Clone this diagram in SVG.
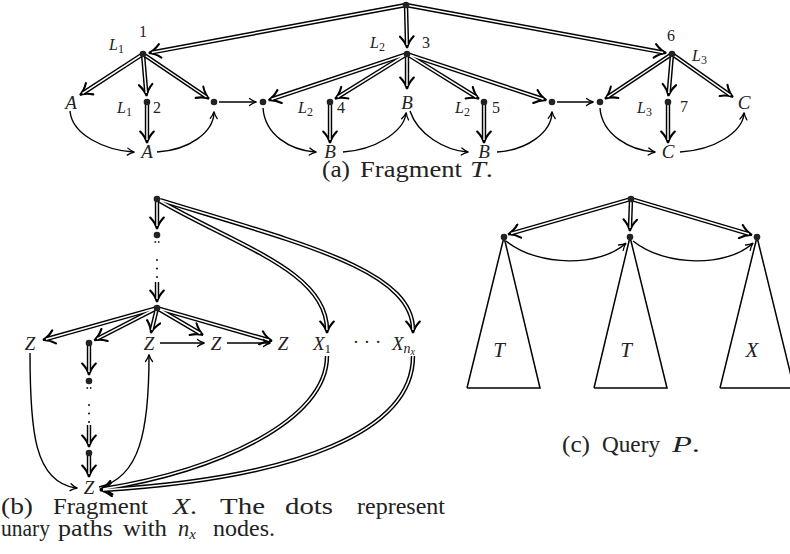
<svg xmlns="http://www.w3.org/2000/svg" width="790" height="554" viewBox="0 0 790 554">
<style>
.n{fill:#222}
.s{fill:none;stroke:#000;stroke-width:1.4}
.do{fill:none;stroke:#000;stroke-width:4.4}
.di{fill:none;stroke:#fff;stroke-width:1.5}
.tri{fill:none;stroke:#000;stroke-width:1.5;stroke-linejoin:miter}
.dots{fill:none;stroke:#222;stroke-width:2.2;stroke-linecap:round;stroke-dasharray:0 8.5}
text{font-family:"Liberation Serif","Times New Roman",serif;fill:#222}
.lb{font-size:19px;font-style:italic;text-anchor:middle}
.lt{font-size:21px;font-style:italic;text-anchor:middle}
.sm{font-size:16px}
.it{font-style:italic}
.sub{font-size:12px;font-style:normal}
.cap{font-size:22.5px}
</style>
<defs>
<marker id="dh" viewBox="-10 -8 16 16" markerWidth="16" markerHeight="16" refX="0" refY="0" orient="auto" markerUnits="userSpaceOnUse">
<path d="M-8.5,-6.8 Q-3,-1.5 3,0 Q-3,1.5 -8.5,6.8" fill="none" stroke="#000" stroke-width="2.1" stroke-linecap="round"/>
</marker>
<marker id="sh" viewBox="-8 -5 10 10" markerWidth="10" markerHeight="10" refX="0" refY="0" orient="auto" markerUnits="userSpaceOnUse">
<path d="M-5.5,-3.5 Q-2,-0.8 1.5,0 Q-2,0.8 -5.5,3.5" fill="none" stroke="#000" stroke-width="1.3" stroke-linecap="round"/>
</marker>
</defs>

<g id="connectors">
<g id="double-outer" class="do" marker-end="url(#dh)">
<path d="M406,5 L151.8,52.4"/>
<path d="M406,5 L407,45"/>
<path d="M406,5 L663.2,52.4"/>
<path d="M143,54 L82.5,93.3"/>
<path d="M143,54 L146.3,93"/>
<path d="M143,54 L206.5,97"/>
<path d="M147,102 L147,140"/>
<path d="M407,54 L271.5,99.2"/>
<path d="M407,54 L337.6,97.2"/>
<path d="M407,54 L407,86"/>
<path d="M407,54 L476.4,97.2"/>
<path d="M407,54 L543.5,99.2"/>
<path d="M330,102 L330,140"/>
<path d="M484,102 L484,140"/>
<path d="M672,54 L607.5,97"/>
<path d="M672,54 L668.7,93"/>
<path d="M672,54 L730.5,95.3"/>
<path d="M668,102 L668,140"/>
<path d="M157,199 L157,226"/>
<path d="M157,282 L157,299"/>
<path d="M157,308 L45.9,339.2"/>
<path d="M157,308 L97,338.9"/>
<path d="M157,308 L151.7,330"/>
<path d="M157,308 L200.4,333.5"/>
<path d="M157,308 L269.1,340.2"/>
<path d="M160,201 C240,247 327,272 327,330"/>
<path d="M160,200 C300,243 413,270 413,330"/>
<path d="M327,356 C327,420 220,470 103,489"/>
<path d="M413,356 C413,430 300,478 103,490"/>
<path d="M89,343 L89,372"/>
<path d="M89,425 L89,444"/>
<path d="M89,453 L89,474"/>
<path d="M631,199 L511,233.5"/>
<path d="M631,199 L630,228"/>
<path d="M631,199 L749,234"/>
</g>
<g id="double-inner" class="di">
<path d="M406,5 L151.8,52.4"/>
<path d="M406,5 L407,45"/>
<path d="M406,5 L663.2,52.4"/>
<path d="M143,54 L82.5,93.3"/>
<path d="M143,54 L146.3,93"/>
<path d="M143,54 L206.5,97"/>
<path d="M147,102 L147,140"/>
<path d="M407,54 L271.5,99.2"/>
<path d="M407,54 L337.6,97.2"/>
<path d="M407,54 L407,86"/>
<path d="M407,54 L476.4,97.2"/>
<path d="M407,54 L543.5,99.2"/>
<path d="M330,102 L330,140"/>
<path d="M484,102 L484,140"/>
<path d="M672,54 L607.5,97"/>
<path d="M672,54 L668.7,93"/>
<path d="M672,54 L730.5,95.3"/>
<path d="M668,102 L668,140"/>
<path d="M157,199 L157,226"/>
<path d="M157,282 L157,299"/>
<path d="M157,308 L45.9,339.2"/>
<path d="M157,308 L97,338.9"/>
<path d="M157,308 L151.7,330"/>
<path d="M157,308 L200.4,333.5"/>
<path d="M157,308 L269.1,340.2"/>
<path d="M160,201 C240,247 327,272 327,330"/>
<path d="M160,200 C300,243 413,270 413,330"/>
<path d="M327,356 C327,420 220,470 103,489"/>
<path d="M413,356 C413,430 300,478 103,490"/>
<path d="M89,343 L89,372"/>
<path d="M89,425 L89,444"/>
<path d="M89,453 L89,474"/>
<path d="M631,199 L511,233.5"/>
<path d="M631,199 L630,228"/>
<path d="M631,199 L749,234"/>
</g>
<g id="single" class="s" marker-end="url(#sh)">
<path d="M219,102 L255,102"/>
<path d="M70,111 C72,135 105,150 133,152"/>
<path d="M157,152 C190,150 213,132 214,113"/>
<path d="M263,108 C265,135 290,150 315,152"/>
<path d="M343,152 C375,150 403,132 406,114"/>
<path d="M410,111 C418,135 445,150 467,152"/>
<path d="M497,152 C528,150 551,132 552,113"/>
<path d="M557,102 L592,102"/>
<path d="M600,108 C602,135 630,150 654,152"/>
<path d="M680,152 C715,150 742,132 744,114"/>
<path d="M160,343 L203,343"/>
<path d="M227,343 L269,343"/>
<path d="M30,353 C30,430 34,482 76,488"/>
<path d="M99,487 C140,478 149,430 149,356"/>
<path d="M506,241 C540,268 600,266 625,244"/>
<path d="M633,241 C667,268 727,266 752,244"/>
</g>
<g id="dotted-paths">
<path class="dots" d="M157,260 L157,278"/>
<path class="dots" d="M89,405 L89,423"/>
<circle cx="155.3" cy="242" r="0.9" class="n"/>
<circle cx="158.7" cy="242" r="0.9" class="n"/>
<circle cx="87.3" cy="388" r="0.9" class="n"/>
<circle cx="90.7" cy="388" r="0.9" class="n"/>
</g>
</g>

<g id="fragment-T">
<g id="t-root"><circle class="n" cx="406" cy="5" r="3.3"/></g>
<g id="t-1"><circle class="n" cx="143" cy="54" r="3.3"/><text class="sm" x="143" y="37" text-anchor="middle">1</text><text class="sm it" x="109" y="50">L<tspan class="sub" dy="3">1</tspan></text></g>
<g id="t-3"><circle class="n" cx="407" cy="54" r="3.3"/><text class="sm" x="422" y="48">3</text><text class="sm it" x="370" y="48">L<tspan class="sub" dy="3">2</tspan></text></g>
<g id="t-6"><circle class="n" cx="672" cy="54" r="3.3"/><text class="sm" x="667" y="41">6</text><text class="sm it" x="692" y="61">L<tspan class="sub" dy="3">3</tspan></text></g>
<g id="t-A1"><text class="lb" x="71" y="109">A</text></g>
<g id="t-2"><circle class="n" cx="147" cy="102" r="3.3"/><text class="sm it" x="117" y="113">L<tspan class="sub" dy="3">1</tspan></text><text class="sm" x="153" y="113">2</text></g>
<g id="t-d1"><circle class="n" cx="214" cy="102" r="3.3"/></g>
<g id="t-d2"><circle class="n" cx="263" cy="102" r="3.3"/></g>
<g id="t-4"><circle class="n" cx="330" cy="102" r="3.3"/><text class="sm it" x="298" y="113">L<tspan class="sub" dy="3">2</tspan></text><text class="sm" x="337" y="113">4</text></g>
<g id="t-B1"><text class="lb" x="407" y="109">B</text></g>
<g id="t-5"><circle class="n" cx="484" cy="102" r="3.3"/><text class="sm it" x="455" y="113">L<tspan class="sub" dy="3">2</tspan></text><text class="sm" x="492" y="113">5</text></g>
<g id="t-d3"><circle class="n" cx="552" cy="102" r="3.3"/></g>
<g id="t-d4"><circle class="n" cx="600" cy="102" r="3.3"/></g>
<g id="t-7"><circle class="n" cx="668" cy="102" r="3.3"/><text class="sm it" x="637" y="113">L<tspan class="sub" dy="3">3</tspan></text><text class="sm" x="680" y="112">7</text></g>
<g id="t-C1"><text class="lb" x="744" y="109">C</text></g>
<g id="t-A2"><text class="lb" x="147" y="158">A</text></g>
<g id="t-B2"><text class="lb" x="330" y="158">B</text></g>
<g id="t-B3"><text class="lb" x="484" y="158">B</text></g>
<g id="t-C2"><text class="lb" x="668" y="158">C</text></g>
<g id="cap-a" class="cap">
<text x="322" y="177" textLength="28" lengthAdjust="spacingAndGlyphs">(a)</text>
<text x="360" y="177" textLength="102" lengthAdjust="spacingAndGlyphs">Fragment</text>
<text x="470" y="177" textLength="23" lengthAdjust="spacingAndGlyphs"><tspan class="it">T</tspan>.</text>
</g>
</g>

<g id="fragment-X">
<g id="x-top"><circle class="n" cx="157" cy="199" r="3.3"/></g>
<g id="x-p1"><circle class="n" cx="157" cy="235" r="3.3"/></g>
<g id="x-hub"><circle class="n" cx="157" cy="308" r="3.3"/></g>
<g id="x-Z1"><text class="lb" x="30" y="350">Z</text></g>
<g id="x-d1"><circle class="n" cx="89" cy="343" r="3.3"/></g>
<g id="x-Z2"><text class="lb" x="149" y="350">Z</text></g>
<g id="x-Z3"><text class="lb" x="216" y="350">Z</text></g>
<g id="x-Z4"><text class="lb" x="283" y="350">Z</text></g>
<g id="x-X1"><text x="313" y="350" font-size="19" class="it">X<tspan font-size="13" font-style="normal" dy="3">1</tspan></text></g>
<g id="x-ell"><text x="367" y="348" font-size="19" text-anchor="middle">· · ·</text></g>
<g id="x-Xn"><text x="392" y="350" font-size="19" class="it">X<tspan font-size="14" dy="3">n</tspan><tspan font-size="10" dy="2">x</tspan></text></g>
<g id="x-d2"><circle class="n" cx="89" cy="381" r="3.3"/></g>
<g id="x-d3"><circle class="n" cx="89" cy="453" r="3.3"/></g>
<g id="x-Zb"><text class="lb" x="89" y="494">Z</text></g>
<g id="cap-b" class="cap">
<text x="1" y="514" textLength="32" lengthAdjust="spacingAndGlyphs">(b)</text>
<text x="53" y="514" textLength="95" lengthAdjust="spacingAndGlyphs">Fragment</text>
<text x="173" y="514" textLength="24" lengthAdjust="spacingAndGlyphs"><tspan class="it">X</tspan>.</text>
<text x="220" y="514" textLength="45" lengthAdjust="spacingAndGlyphs">The</text>
<text x="285" y="514" textLength="48" lengthAdjust="spacingAndGlyphs">dots</text>
<text x="357" y="514" textLength="88" lengthAdjust="spacingAndGlyphs">represent</text>
<text x="1" y="536" textLength="49" lengthAdjust="spacingAndGlyphs">unary</text>
<text x="58" y="536" textLength="55" lengthAdjust="spacingAndGlyphs">paths</text>
<text x="123" y="536" textLength="44" lengthAdjust="spacingAndGlyphs">with</text>
<text x="178" y="536" class="it">n<tspan font-size="15" dy="3">x</tspan></text>
<text x="213" y="536" textLength="62" lengthAdjust="spacingAndGlyphs">nodes.</text>
</g>
</g>

<g id="query-P">
<g id="p-root"><circle class="n" cx="631" cy="199" r="3.3"/></g>
<g id="p-T1"><polyline class="tri" points="467,388 504,237 540,388 467,388"/><circle class="n" cx="504" cy="237" r="3.3"/><text class="lt" x="499" y="357">T</text></g>
<g id="p-T2"><polyline class="tri" points="594,388 630,237 667,388 594,388"/><circle class="n" cx="630" cy="237" r="3.3"/><text class="lt" x="626" y="357">T</text></g>
<g id="p-X"><polyline class="tri" points="720,388 757,237 794,388 720,388"/><circle class="n" cx="757" cy="237" r="3.3"/><text class="lt" x="752" y="357">X</text></g>
<g id="cap-c" class="cap">
<text x="562" y="452" textLength="28" lengthAdjust="spacingAndGlyphs">(c)</text>
<text x="602" y="452" textLength="58" lengthAdjust="spacingAndGlyphs">Query</text>
<text x="672" y="452" textLength="28" lengthAdjust="spacingAndGlyphs"><tspan class="it">P</tspan>.</text>
</g>
</g>
</svg>
